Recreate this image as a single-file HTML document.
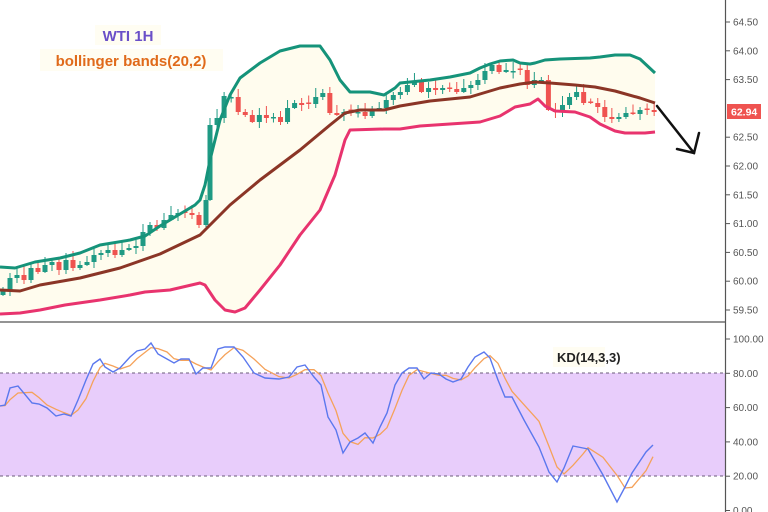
<!DOCTYPE html>
<html><head><meta charset="utf-8"><style>
html,body{margin:0;padding:0;background:#fff;}
svg{display:block;font-family:"Liberation Sans",sans-serif;}
</style></head><body>
<svg id="s" width="768" height="512" viewBox="0 0 768 512" xmlns="http://www.w3.org/2000/svg">
<rect width="768" height="512" fill="#fff"/>
<g id="bands"></g>
<g id="candles"></g>
<g id="lines"></g>
<!-- KD panel -->
<rect x="0" y="373" width="725" height="103" fill="#e8cdfb"/>
<line x1="0" y1="373" x2="725" y2="373" stroke="#6a5a7a" stroke-dasharray="3,3" stroke-width="1"/>
<line x1="0" y1="476" x2="725" y2="476" stroke="#6a5a7a" stroke-dasharray="3,3" stroke-width="1"/>
<g id="kd"></g>
<line x1="0" y1="322" x2="725" y2="322" stroke="#555" stroke-width="1.2"/>
<line x1="725.5" y1="0" x2="725.5" y2="512" stroke="#555" stroke-width="1.2"/>
<g id="axis" font-size="10" fill="#555"></g>
<rect x="727" y="104" width="34" height="15" fill="#ef5350"/>
<text x="731" y="115.5" font-size="10.5" font-weight="bold" fill="#fff">62.94</text>
<rect x="95" y="25" width="66" height="20" fill="#fffdf2"/>
<rect x="40" y="49" width="183" height="22" fill="#fffdf2"/>
<text x="128" y="41" font-size="15" font-weight="bold" fill="#6a4fc8" text-anchor="middle">WTI 1H</text>
<text x="131" y="66" font-size="15" font-weight="bold" fill="#e06a1a" text-anchor="middle">bollinger bands(20,2)</text>
<rect x="553" y="347" width="52" height="20" fill="#fffdf2"/>
<text x="557" y="362" font-size="13" font-weight="bold" fill="#222">KD(14,3,3)</text>
<g stroke="#111" stroke-width="2.5" fill="none" stroke-linecap="round">
<line x1="657" y1="106" x2="694" y2="153"/>
<polyline points="677,149 694,153 699,133"/>
</g>
</svg>
<script>
var NS="http://www.w3.org/2000/svg";
function el(p,t,a){var e=document.createElementNS(NS,t);for(var k in a)e.setAttribute(k,a[k]);document.getElementById(p).appendChild(e);return e;}
function pts(a){return a.map(function(p){return p[0]+","+p[1];}).join(" ");}
var up=[[0,267],[15,268],[35,262],[60,258],[80,253],[100,245],[130,240],[145,236],[160,226],[175,217],[195,205],[200,200],[205,185],[210,160],[220,120],[230,95],[240,78],[260,63],[280,51],[300,46],[320,46],[330,60],[340,80],[350,92],[370,92],[384,95],[395,88],[400,83],[410,82],[430,80],[450,77],[470,73],[480,68],[490,64],[500,61],[513,60],[520,63],[530,64],[535,63],[545,60],[560,59],[590,58],[600,57],[615,55],[630,55],[640,59],[655,73]];
var mid=[[0,290],[20,291],[40,285],[80,278],[120,268],[160,254],[200,235],[230,205],[260,180],[300,150],[330,125],[345,113],[360,110],[384,110],[400,106],[430,101],[470,97],[500,88],[520,84],[535,82],[550,83],[575,85],[595,87],[615,91],[640,98],[655,103]];
var lo=[[0,314],[20,313],[40,310],[65,305],[100,300],[130,295],[145,292],[170,290],[200,283],[205,285],[215,300],[225,310],[235,312],[245,308],[260,290],[280,265],[300,235],[320,210],[335,175],[345,140],[350,130],[384,129],[400,129],[420,126],[450,124],[480,122],[500,116],[515,107],[530,104],[538,99],[545,106],[555,111],[575,112],[590,117],[600,124],[615,131],[625,133],[645,133],[655,132]];
el("bands","polygon",{points:pts(up)+" "+pts(lo.slice().reverse()),fill:"#fffcee"});
var cl=[290,278,275,280,268,272,265,262,270,260,268,265,262,255,253,250,255,250,248,246,232,225,228,220,215,213,213,215,225,200,125,118,96,97,112,115,122,115,118,117,122,108,103,105,104,97,93,113,115,112,111,112,116,110,108,100,95,92,85,82,92,88,90,88,89,92,88,85,80,71,65,72,70,71,70,85,80,80,110,112,105,97,92,103,103,107,117,119,117,113,114,110,110,112];
var prev=295;
for(var i=0;i<cl.length;i++){
 var x=3+i*7,c=cl[i],o=prev;
 if(i==29){x=206}if(i>=30){x=210+(i-30)*7.05;}
 if(Math.abs(c-o)<1.5){o=c+((i%2)?1.5:-1.5);}
 var g=c<o, col=g?"#1f9a84":"#ef5350";
 var t=Math.min(o,c),b=Math.max(o,c);
 var w=3+((i*37)%7);
 el("candles","line",{x1:x,y1:t-w,x2:x,y2:b+((i*53)%6)+1,stroke:col,"stroke-width":1});
 el("candles","rect",{x:x-2.5,y:t,width:5,height:Math.max(b-t,1.5),fill:col});
 prev=c;
}
el("lines","polyline",{points:pts(up),fill:"none",stroke:"#15937a","stroke-width":3,"stroke-linejoin":"round"});
el("lines","polyline",{points:pts(mid),fill:"none",stroke:"#8b3526","stroke-width":3,"stroke-linejoin":"round"});
el("lines","polyline",{points:pts(lo),fill:"none",stroke:"#e8336e","stroke-width":3,"stroke-linejoin":"round"});
var K=[[0,406],[5,405],[10,388],[18,386],[32,403],[39,404],[47,408],[56,416],[64,414],[71,416],[78,400],[86,380],[93,364],[100,359],[105,367],[113,372],[120,368],[130,357],[137,351],[145,349],[151,343],[158,354],[167,359],[174,363],[181,359],[189,359],[196,374],[203,368],[211,368],[218,349],[225,347],[234,347],[243,357],[254,373],[265,378],[279,379],[289,377],[297,367],[305,365],[314,377],[321,385],[328,417],[336,430],[343,453],[350,442],[358,438],[365,433],[373,443],[380,427],[387,413],[395,385],[402,373],[409,368],[417,368],[424,379],[431,373],[439,374],[446,379],[453,382],[461,379],[468,367],[475,357],[484,352],[490,358],[498,380],[505,397],[512,397],[524,420],[539,447],[549,472],[557,482],[564,468],[573,446],[583,448],[588,449],[603,475],[617,502],[625,487],[632,473],[646,452],[653,445]];
var D=[];for(var i=0;i<K.length;i++){var a=K[Math.max(0,i-2)][1],b2=K[Math.max(0,i-1)][1],c2=K[i][1];D.push([K[i][0],(a+b2+c2)/3]);}
el("kd","polyline",{points:pts(D),fill:"none",stroke:"#f5a25a","stroke-width":1.3});
el("kd","polyline",{points:pts(K),fill:"none",stroke:"#5b78ee","stroke-width":1.4});
var pr=["64.50","64.00","63.50","63.00","62.50","62.00","61.50","61.00","60.50","60.00","59.50"];
for(var i=0;i<pr.length;i++){var y=22+i*28.8;if(i!=3){el("axis","line",{x1:726,y1:y,x2:730,y2:y,stroke:"#555"});var t=el("axis","text",{x:733,y:y+3.5});t.textContent=pr[i];}}
var kv=["100.00","80.00","60.00","40.00","20.00","0.00"];
for(var i=0;i<kv.length;i++){var y=339+i*34.3;el("axis","line",{x1:726,y1:y,x2:730,y2:y,stroke:"#555"});var t=el("axis","text",{x:733,y:y+3.5});t.textContent=kv[i];}
</script>
</body></html>
